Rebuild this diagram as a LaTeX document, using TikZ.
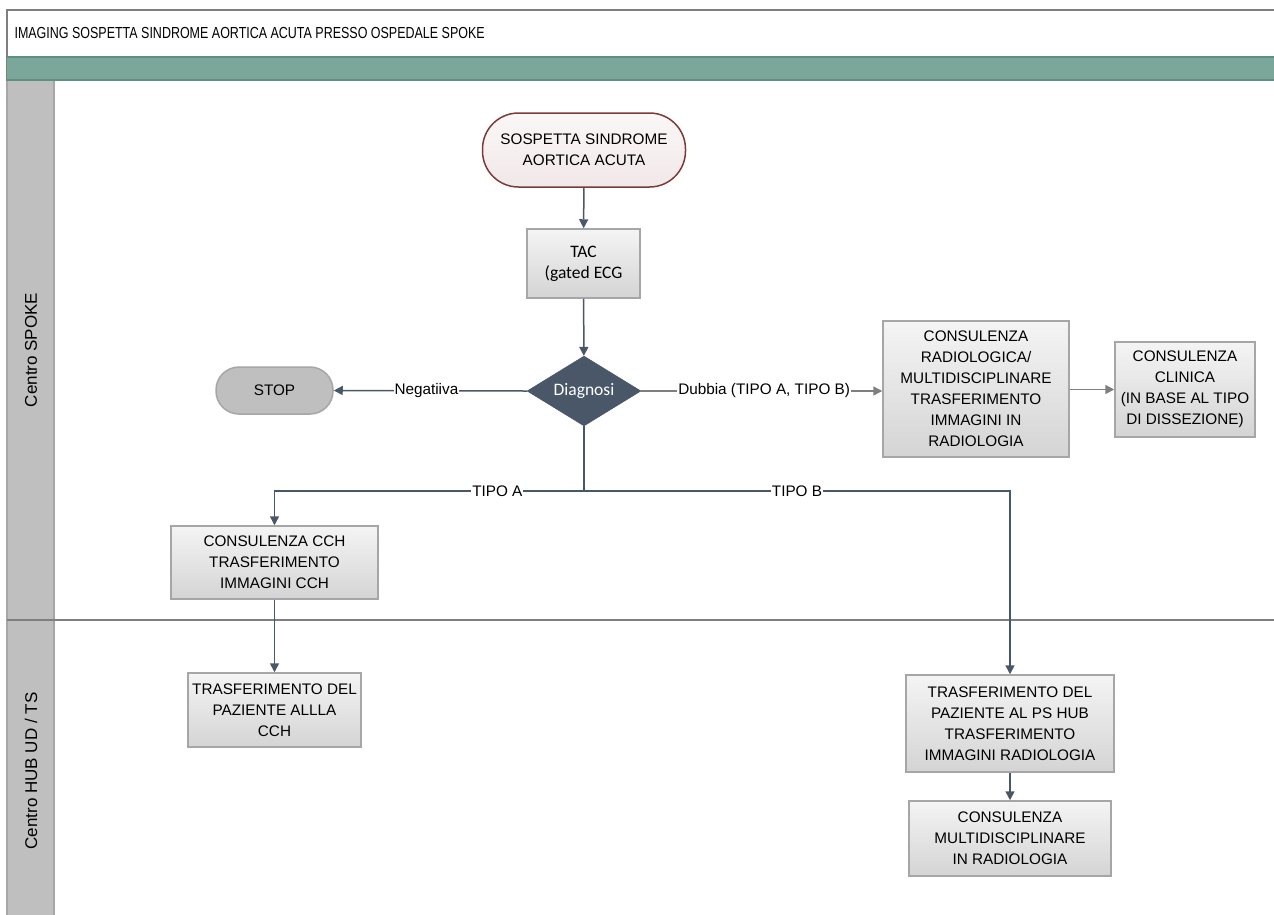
\documentclass[tikz,border=0pt]{standalone}
\usepackage{fontspec}
\setmainfont{Liberation Sans}
\newfontfamily\titlefont[FakeStretch=0.78]{Liberation Sans}
\newfontfamily\calfont{Carlito}
\usetikzlibrary{arrows.meta,shapes.geometric}
\definecolor{boxborder}{HTML}{A6A6A6}
\definecolor{boxtop}{HTML}{F4F4F4}
\definecolor{boxbot}{HTML}{D4D4D4}
\definecolor{slate}{HTML}{4A5768}
\definecolor{linegray}{HTML}{7F7F7F}
\definecolor{lanegray}{HTML}{BFBFBF}
\definecolor{greenbar}{HTML}{7BA79A}
\definecolor{greenedge}{HTML}{5F8F80}
\definecolor{startedge}{HTML}{7B3B3B}
\definecolor{starttop}{HTML}{FBF7F7}
\definecolor{startbot}{HTML}{F1E8E8}
\tikzset{
  boxtxt/.style={font=\fontsize{15.3}{21}\selectfont},
  procbox/.style={draw=boxborder, line width=1.5pt, top color=boxtop, bottom color=boxbot,
    align=center, boxtxt, inner sep=2pt},
  startbox/.style={draw=startedge, line width=1.5pt, top color=starttop, bottom color=startbot,
    rounded corners=36pt, align=center, boxtxt, inner sep=2pt},
  stopbox/.style={draw=boxborder, line width=1.5pt, fill=lanegray, rounded corners=23pt,
    align=center, boxtxt, inner sep=2pt},
  decision/.style={diamond, fill=slate, draw=slate, text=white, aspect=1.63, inner sep=0pt,
    font=\calfont\fontsize{17.5}{20}\selectfont},
  conn/.style={draw=slate, line width=1.5pt, -{Triangle[length=9pt,width=9pt]}},
  conngray/.style={draw=linegray, line width=1.5pt, -{Triangle[length=9pt,width=9pt]}},
  lbl/.style={fill=white, inner sep=1pt, boxtxt},
  lanelbl/.style={rotate=90, font=\fontsize{17}{20}\selectfont},
}
\begin{document}
\begin{tikzpicture}[x=1pt,y=-1pt]
\useasboundingbox (0,0) rectangle (1274,914);
\fill[white] (0,0) rectangle (1274,914);
% title and green bar
\draw[linegray, line width=2pt] (1276,10) -- (7,10) -- (7,916);
\fill[greenbar] (7,57) rectangle (1276,80);
\draw[greenedge, line width=1.5pt] (7,57) -- (1276,57) (7,80) -- (1276,80);
\node[anchor=west, font=\titlefont\fontsize{16}{19}\selectfont] (title) at (11,33) {IMAGING SOSPETTA SINDROME AORTICA ACUTA PRESSO OSPEDALE SPOKE};
% lane column
\fill[lanegray] (7,81) rectangle (54,916);
\draw[boxborder, line width=1.5pt] (7,81) -- (7,916) (54,81) -- (54,916);
\draw[linegray, line width=2pt] (7,620) -- (1276,620);
\node[lanelbl] (lane1) at (31,350) {Centro SPOKE};
\node[lanelbl] (lane2) at (31,771) {Centro HUB UD / TS};
% nodes
\node[startbox, minimum width=203pt, minimum height=74pt] (start) at (584,150) {SOSPETTA SINDROME\\AORTICA ACUTA};
\node[procbox, minimum width=113pt, minimum height=69pt, font=\calfont\fontsize{17.5}{21}\selectfont] (tac) at (583.5,263.5) {TAC\\(gated ECG};
\node[decision, minimum width=114pt, minimum height=70pt] (diag) at (584,391) {Diagnosi};
\node[stopbox, minimum width=117pt, minimum height=47pt] (stop) at (274.5,390.5) {STOP};
\node[procbox, minimum width=186pt, minimum height=136pt] (rad) at (976,389) {CONSULENZA\\RADIOLOGICA/\\MULTIDISCIPLINARE\\TRASFERIMENTO\\IMMAGINI IN\\RADIOLOGIA};
\node[procbox, minimum width=140pt, minimum height=95pt] (clin) at (1185,389.5) {CONSULENZA\\CLINICA\\(IN BASE AL TIPO\\DI DISSEZIONE)};
\node[procbox, minimum width=207pt, minimum height=73pt] (cch) at (274.5,562.5) {CONSULENZA CCH\\TRASFERIMENTO\\IMMAGINI CCH};
\node[procbox, minimum width=173pt, minimum height=74pt] (trcch) at (274.5,710) {TRASFERIMENTO DEL\\PAZIENTE ALLLA\\CCH};
\node[procbox, minimum width=208pt, minimum height=97pt] (pshub) at (1010,723.5) {TRASFERIMENTO DEL\\PAZIENTE AL PS HUB\\TRASFERIMENTO\\IMMAGINI RADIOLOGIA};
\node[procbox, minimum width=202pt, minimum height=75pt] (multi) at (1010,838.5) {CONSULENZA\\MULTIDISCIPLINARE\\IN RADIOLOGIA};
\coordinate (split) at (584,491);
% connectors
\draw[conn] (start) -- (tac);
\draw[conn] (tac) -- (diag);
\draw[conn] (diag.west) -- node[lbl, pos=0.52] {Negatiiva} (stop.east);
\draw[conngray] (diag.east) -- node[lbl, pos=0.51] {Dubbia (TIPO A, TIPO B)} (rad.west |- diag.east);
\draw[conngray] (rad.east |- clin.west) -- (clin.west);
\draw[conn] (diag.south) -- (split) -- node[lbl, pos=0.28] {TIPO A} (split -| cch.north) -- (cch.north);
\draw[conn] (split) -- node[lbl, pos=0.5] {TIPO B} (split -| pshub.north) -- (pshub.north);
\draw[conn] (cch) -- (trcch);
\draw[conn] (pshub) -- (multi);
\end{tikzpicture}
\end{document}
